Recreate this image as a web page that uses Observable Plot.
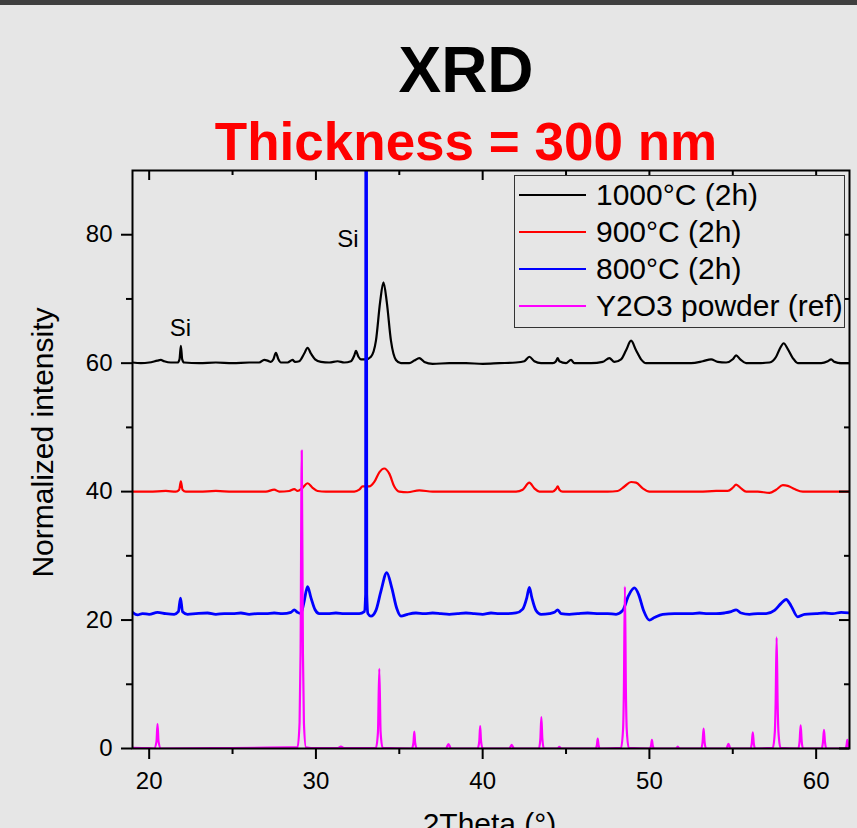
<!DOCTYPE html>
<html>
<head>
<meta charset="utf-8">
<script src="https://cdn.jsdelivr.net/npm/d3@7"></script>
<script src="https://cdn.jsdelivr.net/npm/@observablehq/plot@0.6"></script>
<style>
html,body{margin:0;padding:0;background:#e6e6e6;}
#wrap{position:relative;width:857px;height:828px;overflow:hidden;font-family:"Liberation Sans",Arial,sans-serif;background:#e6e6e6;}
#wrap svg{position:absolute;left:0;top:0;}
#strip{position:absolute;left:0;top:0;width:857px;height:5px;background:#3f3f3f;}
.title{position:absolute;left:0;width:932px;text-align:center;font-weight:bold;line-height:1;white-space:nowrap;}
#t1{top:38px;font-size:64px;color:#000;}
#t2{top:115px;font-size:53px;color:#ff0000;}
#legend{position:absolute;left:514px;top:175px;width:331px;height:153px;box-sizing:border-box;border:1px solid #333;background:#e6e6e6;}
.row{display:flex;align-items:center;height:37px;}
.sw{width:67px;height:2px;margin-left:4px;}
.lt{margin-left:10px;font-size:30px;line-height:37px;color:#000;white-space:nowrap;}
</style>
</head>
<body>
<div id="wrap">
  <div id="strip"></div>
  <div class="title" id="t1">XRD</div>
  <div class="title" id="t2">Thickness = 300 nm</div>
  <div id="legend"></div>
</div>
<script>
// ---- data (2Theta in degrees, normalized intensity) ----
const seriesNames = ["1000°C (2h)", "900°C (2h)", "800°C (2h)", "Y2O3 powder (ref)"];
const seriesColors = ["#000000", "#ff0000", "#0000ff", "#ff00ff"];

const s1000 = [[19.0,60.1],[19.5,60.0],[20.0,60.1],[20.5,60.4],[20.7,60.5],[20.9,60.3],[21.3,60.1],[21.7,60.1],[21.82,60.6],[21.9,62.7],[21.98,60.6],[22.1,60.1],[23,60.0],[24,60.1],[25,60.0],[26,60.1],[26.6,60.1],[26.9,60.5],[27.1,60.4],[27.3,60.2],[27.45,60.6],[27.6,61.6],[27.75,60.6],[27.9,60.1],[28.3,60.1],[28.6,60.5],[28.75,60.2],[29.0,60.3],[29.3,61.5],[29.5,62.4],[29.7,61.5],[29.95,60.6],[30.3,60.2],[30.8,60.1],[31.3,60.3],[31.7,60.1],[32.1,60.3],[32.3,61.2],[32.4,61.9],[32.55,61.0],[32.7,60.6],[33.0,60.6],[33.3,61.0],[33.6,63.5],[33.85,69.5],[34.05,72.6],[34.25,69.5],[34.5,63.5],[34.8,60.5],[35.1,60.0],[35.6,60.0],[35.9,60.4],[36.2,60.8],[36.5,60.2],[37,59.9],[38,60.0],[39,60.0],[40,59.9],[41,60.0],[42,60.1],[42.5,60.3],[42.8,61.0],[43.1,60.3],[43.5,60.0],[44.2,60.0],[44.4,60.3],[44.5,60.8],[44.6,60.3],[45.0,60.0],[45.3,60.5],[45.5,60.0],[46.5,60.0],[47.2,60.2],[47.6,60.8],[47.9,60.2],[48.3,60.6],[48.6,62.0],[48.9,63.5],[49.2,62.0],[49.5,60.6],[49.8,60.0],[50.5,60.0],[51.5,60.0],[52.5,60.0],[53.2,60.3],[53.7,60.6],[54.1,60.2],[54.6,60.1],[55.0,60.6],[55.2,61.2],[55.45,60.6],[55.8,60.0],[56.5,60.0],[57.2,60.1],[57.6,61.0],[57.85,62.4],[58.05,63.1],[58.3,62.2],[58.6,60.8],[58.9,60.0],[59.5,60.0],[60.3,60.0],[60.7,60.3],[60.9,60.6],[61.1,60.2],[61.5,60.0],[62,60.0]];

const s900 = [[19,40.0],[20,40.0],[21,40.1],[21.6,40.0],[21.8,40.3],[21.9,41.6],[22.0,40.3],[22.2,40.0],[23,40.0],[24,40.1],[25,40.0],[26,40.0],[27,40.0],[27.5,40.3],[27.8,40.0],[28.4,40.1],[28.7,40.4],[28.9,40.1],[29.2,40.6],[29.5,41.3],[29.8,40.6],[30.1,40.1],[30.6,40.0],[31.5,40.0],[32.3,40.0],[32.6,40.3],[32.8,40.8],[33.0,40.8],[33.2,40.8],[33.5,41.5],[33.8,43.0],[34.1,43.6],[34.4,42.8],[34.7,40.8],[35.0,40.0],[35.5,39.9],[36.2,40.2],[37,40.0],[38,40.0],[39,40.0],[40,40.0],[41,40.0],[42,40.0],[42.4,40.3],[42.8,41.4],[43.1,40.5],[43.4,40.0],[44.2,40.0],[44.4,40.4],[44.5,40.8],[44.6,40.3],[44.8,40.0],[45.5,40.0],[46.5,40.0],[47.5,40.0],[48.1,40.1],[48.5,40.8],[48.9,41.5],[49.2,41.4],[49.6,40.5],[50.0,40.0],[51,40.0],[52,40.0],[53,40.0],[54,40.1],[54.7,40.1],[55.0,40.6],[55.2,41.1],[55.5,40.5],[55.8,40.0],[56.5,40.0],[57.2,39.8],[57.6,40.3],[58.0,41.0],[58.3,40.9],[58.7,40.4],[59.2,40.0],[60,40.0],[61,40.0],[62,40.0]];

const s800 = [[19,21.2],[19.3,20.8],[19.6,21.0],[20.0,20.9],[20.5,21.2],[21.0,21.0],[21.5,20.9],[21.75,21.3],[21.88,23.4],[22.0,21.3],[22.3,20.9],[22.8,21.0],[23.5,21.1],[24,20.9],[24.5,21.0],[25,21.0],[25.5,21.1],[26,20.9],[26.5,21.0],[27,21.0],[27.5,21.1],[28,21.0],[28.5,21.2],[28.7,21.6],[28.9,21.2],[29.1,21.0],[29.3,23.0],[29.5,25.2],[29.7,23.5],[29.95,21.6],[30.2,21.0],[30.7,21.0],[31.2,21.1],[31.7,21.0],[32.2,21.0],[32.6,21.0],[32.9,21.3],[32.98,24],[33.01,200],[33.05,24],[33.12,21.0],[33.3,20.6],[33.6,21.5],[33.9,24.5],[34.25,27.4],[34.55,25.0],[34.85,21.8],[35.1,20.6],[35.5,20.9],[36,21.1],[36.5,21.0],[37,21.1],[37.5,21.0],[38,20.9],[38.5,21.0],[39,21.1],[39.5,21.0],[40,20.9],[40.5,21.1],[41,21.0],[41.5,21.0],[42,21.1],[42.4,21.7],[42.65,23.5],[42.8,25.1],[42.95,23.5],[43.2,21.5],[43.5,20.9],[44.0,21.0],[44.3,21.2],[44.5,21.6],[44.7,21.0],[45.2,20.9],[45.7,21.0],[46.3,21.1],[47,21.0],[47.5,21.0],[48.0,20.9],[48.4,21.5],[48.75,23.8],[49.1,25.0],[49.35,24.0],[49.65,21.5],[50.0,20.0],[50.3,20.4],[50.8,20.9],[51.5,21.0],[52,21.0],[52.5,21.0],[53,21.1],[53.5,21.0],[54,21.0],[54.5,21.1],[54.9,21.3],[55.2,21.6],[55.5,21.1],[56,20.9],[56.5,21.0],[57.0,21.0],[57.5,21.5],[57.9,22.6],[58.2,23.2],[58.5,22.2],[58.9,20.5],[59.3,20.9],[60,21.0],[60.5,21.1],[61,21.0],[61.5,21.2],[62,21.1]];

const sY2O3 = [[19,0.1],[20.0,0.05],[20.3,0],[20.44,1.1],[20.5,3.8],[20.56,1.1],[20.7,0],[24,0.05],[28.9,0.2],[29.02,4],[29.08,15],[29.15,46.4],[29.22,15],[29.28,4],[29.4,0.2],[30,0.05],[31.3,0.05],[31.5,0.3],[31.7,0.05],[33.6,0.1],[33.72,2.5],[33.8,12.4],[33.88,2.5],[34.0,0.1],[35.75,0],[35.85,0.9],[35.9,2.65],[35.95,0.9],[36.05,0],[37.8,0],[37.95,0.7],[38.1,0],[39.7,0],[39.8,1.2],[39.85,3.5],[39.9,1.2],[40.0,0],[41.6,0],[41.74,0.57],[41.88,0],[43.37,0],[43.46,1.5],[43.52,4.88],[43.58,1.5],[43.67,0],[44.5,0],[44.6,0.25],[44.7,0],[46.77,0],[46.85,0.5],[46.9,1.56],[46.95,0.5],[47.03,0],[48.3,0.1],[48.42,3],[48.47,9],[48.53,25.2],[48.59,9],[48.64,3],[48.76,0.1],[50.02,0],[50.1,0.45],[50.15,1.35],[50.2,0.45],[50.28,0],[51.6,0],[51.7,0.3],[51.8,0],[53.1,0],[53.19,1.0],[53.25,3.1],[53.31,1.0],[53.4,0],[54.62,0],[54.74,0.73],[54.86,0],[56.06,0],[56.14,0.8],[56.2,2.5],[56.26,0.8],[56.34,0],[57.4,0.1],[57.52,2.5],[57.57,7],[57.63,17.3],[57.69,7],[57.74,2.5],[57.86,0.1],[58.93,0],[59.01,1.2],[59.07,3.6],[59.13,1.2],[59.21,0],[60.33,0],[60.41,1.0],[60.47,2.9],[60.53,1.0],[60.61,0],[61.74,0],[61.82,0.45],[61.87,1.35],[61.92,0.45],[62.0,0.1]];

const siLabels = [{x: 21.88, y: 65.4, t: "Si"}, {x: 31.92, y: 79.3, t: "Si"}];

const xMajorTicks = [20, 30, 40, 50, 60];
const xMinorTicks = [25, 35, 45, 55];
const yMajorTicks = [0, 20, 40, 60, 80];
const yMinorTicks = [10, 30, 50, 70];

// ---- chart ----
const W = 857, H = 828, mT = 170, mB = 80, mL = 132, mR = 8;
const fw = W - mL - mR, fh = H - mT - mB;
const series = [s1000, s900, s800, sY2O3];
const widths = [2.2, 2.2, 2.8, 2.2];

const plot = Plot.plot({
  width: W, height: H,
  marginTop: mT, marginBottom: mB, marginLeft: mL, marginRight: mR,
  style: {background: "transparent", fontFamily: "Liberation Sans, Arial, sans-serif", fontSize: "24px", color: "black", overflow: "visible"},
  x: {domain: [19, 62]},
  y: {domain: [0, 90]},
  marks: [
    ...series.map((s, i) => Plot.line(s, {x: d => d[0], y: d => d[1], stroke: seriesColors[i], strokeWidth: widths[i], curve: "monotone-x", clip: true})),
    Plot.frame({stroke: "black", strokeWidth: 2}),
    Plot.axisX(xMajorTicks, {tickSize: 11, tickPadding: 12, strokeWidth: 2, fontSize: 24, label: null}),
    Plot.axisX(xMinorTicks, {tickSize: 6, strokeWidth: 2, tickFormat: () => "", label: null}),
    Plot.axisY(yMajorTicks, {tickSize: 11, tickPadding: 9, strokeWidth: 2, fontSize: 24, label: null}),
    Plot.axisY(yMinorTicks, {tickSize: 6, strokeWidth: 2, tickFormat: () => "", label: null}),
    Plot.tickX(xMajorTicks, {x: d => d, insetBottom: fh - 10, stroke: "black", strokeWidth: 2}),
    Plot.tickX(xMinorTicks, {x: d => d, insetBottom: fh - 5, stroke: "black", strokeWidth: 2}),
    Plot.tickY(yMajorTicks, {y: d => d, insetLeft: fw - 10, stroke: "black", strokeWidth: 2}),
    Plot.tickY(yMinorTicks, {y: d => d, insetLeft: fw - 5, stroke: "black", strokeWidth: 2}),
    Plot.text(siLabels, {x: "x", y: "y", text: "t", fontSize: 24, lineAnchor: "middle", textAnchor: "middle", fill: "black"}),
    Plot.text(["Normalized intensity"], {frameAnchor: "left", rotate: -90, dx: -89.6, dy: -17, fontSize: 30, lineAnchor: "middle", textAnchor: "middle", fill: "black"}),
    Plot.text(["2Theta (°)"], {frameAnchor: "bottom", dx: -1.5, dy: 64, fontSize: 30, lineAnchor: "top", textAnchor: "middle", fill: "black"})
  ]
});

const wrap = document.getElementById("wrap");
wrap.insertBefore(plot, wrap.firstChild);

const legend = document.getElementById("legend");
seriesNames.forEach((name, i) => {
  const row = document.createElement("div");
  row.className = "row";
  const sw = document.createElement("div");
  sw.className = "sw";
  sw.style.background = seriesColors[i];
  const lt = document.createElement("div");
  lt.className = "lt";
  lt.textContent = name;
  row.appendChild(sw);
  row.appendChild(lt);
  legend.appendChild(row);
});
</script>
</body>
</html>
